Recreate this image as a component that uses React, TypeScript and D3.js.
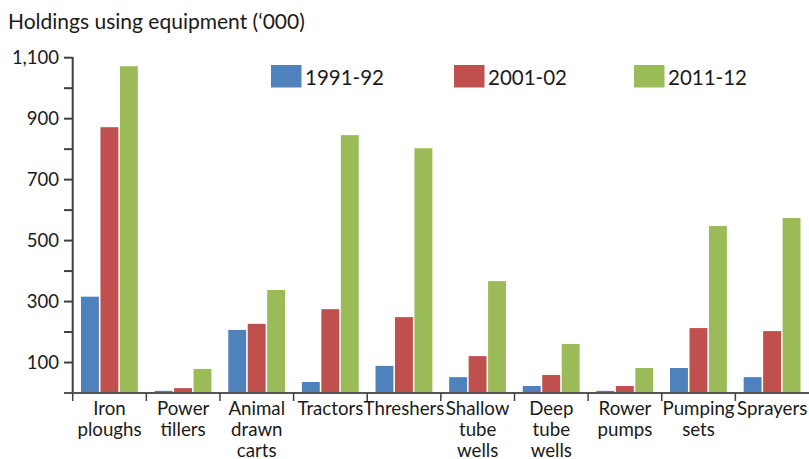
import React from "react";
import * as d3 from "d3";

const categories = [
  "Iron ploughs",
  "Power tillers",
  "Animal drawn carts",
  "Tractors",
  "Threshers",
  "Shallow tube wells",
  "Deep tube wells",
  "Rower pumps",
  "Pumping sets",
  "Sprayers",
];
const categoryLines = [
  ["Iron", "ploughs"],
  ["Power", "tillers"],
  ["Animal", "drawn", "carts"],
  ["Tractors"],
  ["Threshers"],
  ["Shallow", "tube", "wells"],
  ["Deep", "tube", "wells"],
  ["Rower", "pumps"],
  ["Pumping", "sets"],
  ["Sprayers"],
];
const seriesNames = ["1991-92", "2001-02", "2011-12"];
const values1991 = [316, 7, 207, 36, 89, 52, 23, 7, 82, 52];
const values2001 = [872, 16, 227, 275, 249, 121, 59, 23, 213, 203];
const values2011 = [1072, 79, 338, 846, 803, 367, 161, 82, 548, 574];
const seriesColors = ["#4F81BD", "#C0504D", "#9BBB59"];
const yTickValues = [100, 200, 300, 400, 500, 600, 700, 800, 900, 1000, 1100];
const yLabelValues = [100, 300, 500, 700, 900, 1100];
const title = "Holdings using equipment (\u2018000)";

const W = 809;
const H = 459;
const FONT = "Lato, 'Open Sans', sans-serif";

export default function App() {
  const seriesValues = [values1991, values2001, values2011];
  const x = d3.scaleBand<string>().domain(categories).range([72.7, 809]).padding(0);
  const bw = x.bandwidth();
  const xs = d3
    .scaleBand<string>()
    .domain(seriesNames)
    .range([8.3, bw - 8.5])
    .paddingInner(0.08)
    .paddingOuter(0);
  const y = d3.scaleLinear().domain([0, 1100]).range([393, 57.7]);
  const fmt = d3.format(",");
  const axisColor = "#404040";

  return (
    <div style={{ position: "absolute", left: 0, top: 0 }}>
      <svg width={W} height={H} style={{ display: "block", fontFamily: FONT }}>
        <rect width={W} height={H} fill="#fff" />
        <text x={8} y={28.5} fontSize={21} fill="#1a1a1a">
          {title}
        </text>

        {/* bars */}
        {categories.map((c, i) => (
          <g key={c} transform={`translate(${x(c)},0)`}>
            {seriesNames.map((s, j) => {
              const v = seriesValues[j][i];
              return (
                <rect
                  key={s}
                  x={xs(s)}
                  y={y(v)}
                  width={xs.bandwidth()}
                  height={y(0) - y(v)}
                  fill={seriesColors[j]}
                />
              );
            })}
          </g>
        ))}

        {/* y axis */}
        <line x1={72.7} x2={72.7} y1={57} y2={394} stroke={axisColor} strokeWidth={2} />
        {yTickValues.map((t) => (
          <line key={t} x1={64} x2={72.7} y1={y(t)} y2={y(t)} stroke={axisColor} strokeWidth={2} />
        ))}
        {yLabelValues.map((t) => (
          <text
            key={t}
            x={59}
            y={y(t)}
            dy="0.35em"
            textAnchor="end"
            fontSize={18.5}
            fill="#1a1a1a"
          >
            {fmt(t)}
          </text>
        ))}

        {/* x axis */}
        <line x1={64} x2={809} y1={393} y2={393} stroke="#555" strokeWidth={2} />
        {categories.map((c) => (
          <line
            key={c}
            x1={x(c)}
            x2={x(c)}
            y1={393}
            y2={401}
            stroke={axisColor}
            strokeWidth={1.5}
          />
        ))}
        {categories.map((c, i) => (
          <text
            key={c}
            x={(x(c) as number) + bw / 2}
            y={415}
            textAnchor="middle"
            fontSize={18.7}
            fill="#1a1a1a"
          >
            {categoryLines[i].map((l, k) => (
              <tspan key={k} x={(x(c) as number) + bw / 2} dy={k === 0 ? 0 : 20.8}>
                {l}
              </tspan>
            ))}
          </text>
        ))}

        {/* legend */}
        {seriesNames.map((s, j) => {
          const lx = [271, 454, 634][j];
          return (
            <g key={s}>
              <rect x={lx} y={65} width={30.5} height={22.5} fill={seriesColors[j]} />
              <text x={lx + 34} y={85} fontSize={20.5} fill="#1a1a1a">
                {s}
              </text>
            </g>
          );
        })}
      </svg>
    </div>
  );
}
